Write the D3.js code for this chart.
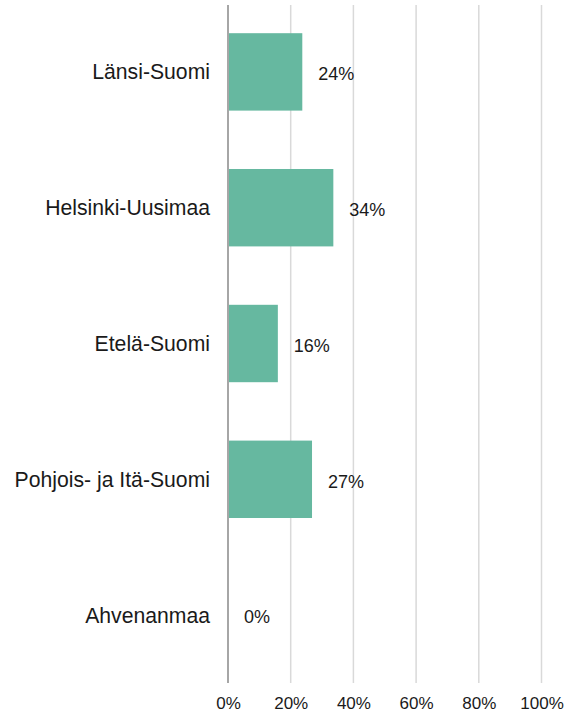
<!DOCTYPE html>
<html>
<head>
<meta charset="utf-8">
<script src="https://cdn.jsdelivr.net/npm/d3@7"></script>
<style>
  body { margin: 0; background: #fff; }
  svg text { font-family: "Liberation Sans", Arial, sans-serif; fill: #1a1a1a; }
</style>
</head>
<body>
<div id="chart"></div>
<script>
const regions = ['Länsi-Suomi', 'Helsinki-Uusimaa', 'Etelä-Suomi', 'Pohjois- ja Itä-Suomi', 'Ahvenanmaa'];
const shares = [0.237, 0.336, 0.159, 0.268, 0];
const ticks = [0, 0.2, 0.4, 0.6, 0.8, 1];

const width = 566, height = 714;
const svg = d3.select('#chart').append('svg')
  .attr('width', width)
  .attr('height', height);

const x = d3.scaleLinear().domain([0, 1]).range([228, 541.5]);
const y = d3.scaleBand().domain(regions).range([4, 683]).paddingInner(0.43).paddingOuter(0.215);

const data = regions.map((r, i) => ({ region: r, value: shares[i] }));
const pct = d3.format('.0%');

// gridlines
svg.append('g')
  .selectAll('line')
  .data(ticks.slice(1))
  .join('line')
  .attr('x1', d => x(d)).attr('x2', d => x(d))
  .attr('y1', 5).attr('y2', 683)
  .attr('stroke', '#d9d9d9')
  .attr('stroke-width', 1.5);

// bars
svg.append('g')
  .selectAll('rect')
  .data(data)
  .join('rect')
  .attr('x', x(0))
  .attr('y', d => y(d.region))
  .attr('width', d => x(d.value) - x(0))
  .attr('height', y.bandwidth())
  .attr('fill', '#66b8a0');

// zero axis
svg.append('line')
  .attr('x1', x(0)).attr('x2', x(0))
  .attr('y1', 5).attr('y2', 683)
  .attr('stroke', '#a6a6a6')
  .attr('stroke-width', 2);

// category labels
svg.append('g')
  .selectAll('text')
  .data(data)
  .join('text')
  .attr('x', x(0) - 18)
  .attr('y', d => y(d.region) + y.bandwidth() / 2)
  .attr('dy', '0.35em')
  .attr('text-anchor', 'end')
  .attr('font-size', 21.2)
  .text(d => d.region);

// value labels
svg.append('g')
  .selectAll('text')
  .data(data)
  .join('text')
  .attr('x', d => x(d.value) + 16)
  .attr('y', d => y(d.region) + y.bandwidth() / 2 + 2)
  .attr('dy', '0.35em')
  .attr('font-size', 18)
  .text(d => pct(d.value));

// x axis tick labels
const xAxis = d3.axisBottom(x).tickValues(ticks).tickFormat(pct).tickSize(0).tickPadding(0);
const ax = svg.append('g').attr('transform', 'translate(0,697)').call(xAxis);
ax.select('.domain').remove();
ax.selectAll('text')
  .attr('font-size', 17)
  .attr('font-family', '"Liberation Sans", Arial, sans-serif')
  .attr('fill', '#1a1a1a');
</script>
</body>
</html>
